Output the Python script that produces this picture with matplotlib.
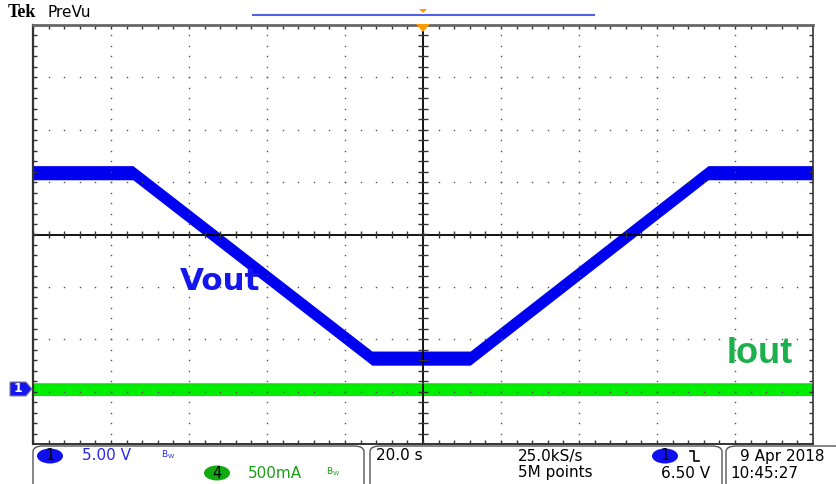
import numpy as np
import matplotlib.pyplot as plt
from matplotlib.patches import Polygon, Ellipse, FancyBboxPatch
from matplotlib.lines import Line2D

# scope settings
time_per_div = 20.0      # s/div
ch1_volts_per_div = 5.0  # V/div
ch4_amps_per_div = 0.5   # A/div
ch1_pos = -2.94          # divisions
ch4_pos = -2.96

# Vout breakpoints (s, V)
vout_t = [-100.0, -74.4, -13.1, 12.1, 73.1, 100.0]
vout_v = [20.6, 20.6, 2.9, 2.9, 20.6, 20.6]

# Iout (s, A)
iout_t = [-100.0, 100.0]
iout_a = [0.0, 0.0]

W, H = 837, 484


def fx(x):
    return x / W


def fy(y):
    return 1 - y / H


fig = plt.figure(figsize=(W / 100, H / 100), dpi=100)
fig.patch.set_facecolor('white')
ax = fig.add_axes([fx(33), fy(444), 780 / W, 419 / H])
ax.set_xlim(-5, 5)
ax.set_ylim(-4, 4)
ax.axis('off')

# graticule dots
dot = dict(ls='none', marker='s', ms=1.0, mew=0, color='#505050')
for gx in range(-4, 5):
    if gx == 0:
        continue
    ys = np.arange(-4, 4.001, 0.2)
    ax.plot(np.full_like(ys, gx), ys, **dot)
for gy in range(-3, 4):
    if gy == 0:
        continue
    xs = np.arange(-5, 5.001, 0.2)
    ax.plot(xs, np.full_like(xs, gy), **dot)

# center cross with minor ticks
ax.axhline(0, color='black', lw=1.3)
ax.axvline(0, color='black', lw=1.3)
mx = np.arange(-5, 5.001, 0.2)
my = np.arange(-4, 4.001, 0.2)
ax.vlines(mx, -0.06, 0.06, color='#333333', lw=1)
ax.hlines(my, -0.06, 0.06, color='#333333', lw=1)
# edge ticks
ax.vlines(mx, 4 - 0.07, 4, color='#333333', lw=1)
ax.vlines(mx, -4, -4 + 0.07, color='#333333', lw=1)
ax.hlines(my, -5, -5 + 0.05, color='#333333', lw=1)
ax.hlines(my, 5 - 0.05, 5, color='#333333', lw=1)

# frame
ax.plot([-5, -5], [-4, 4], color='#333333', lw=1.6, clip_on=False)
ax.plot([5, 5], [-4, 4], color='#333333', lw=1.2, clip_on=False)
ax.plot([-5, 5], [-4, -4], color='#333333', lw=1.4, clip_on=False)
ax.plot([-5, 5], [4, 4], color='#666666', lw=2.0, clip_on=False)

# traces
t_dense = np.linspace(-100, 100, 2001)
vout_div = np.interp(t_dense, vout_t, vout_v) / ch1_volts_per_div + ch1_pos
iout_div = np.interp(t_dense, iout_t, iout_a) / ch4_amps_per_div + ch4_pos
x_div = t_dense / time_per_div

ax.fill_between(x_div, iout_div - 0.115, iout_div + 0.115, color='#00ee00', lw=0)
ax.plot(x_div, iout_div + 0.11, color='#22aa22', lw=0.6)
ax.fill_between(x_div, vout_div - 0.135, vout_div + 0.135, color='#0000f0', lw=0)

# trace labels
fig.text(fx(180), fy(290), 'Vout', color='#1515ee', fontsize=22.3, fontweight='bold',
         family='DejaVu Sans', va='baseline')
fig.text(fx(727), fy(363), 'Iout', color='#1cb04c', fontsize=26, fontweight='bold',
         family='Liberation Sans', va='baseline')

# channel 1 ground marker
mk = Polygon([(fx(10), fy(382)), (fx(26), fy(382)), (fx(32), fy(389)),
              (fx(26), fy(396)), (fx(10), fy(396))], closed=True,
             transform=fig.transFigure, fc='#1515ee', ec='#888888', lw=0.8)
fig.patches.append(mk)
fig.text(fx(18), fy(389), '1', color='white', fontsize=9, fontweight='bold',
         ha='center', va='center')

# header
fig.text(fx(8), fy(17), 'Tek', family='Liberation Serif', fontweight='bold',
         fontsize=13, va='baseline', color='black')
fig.text(fx(48), fy(17), 'PreVu', fontsize=11, va='baseline', color='black')
fig.add_artist(Line2D([fx(253), fx(594)], [fy(15), fy(15)], color='#5060e8', lw=1.5))
fig.add_artist(Polygon([(fx(419), fy(9)), (fx(427), fy(9)), (fx(423), fy(13))],
                       closed=True, transform=fig.transFigure, fc='#ff9900', ec='none',
                       zorder=10))
fig.add_artist(Polygon([(fx(416), fy(24)), (fx(430), fy(24)), (fx(423), fy(32))],
                       closed=True, transform=fig.transFigure, fc='#ff9900', ec='none',
                       zorder=10))

# status bar boxes
for x0, x1 in [(33, 364), (370, 722), (726, 845)]:
    box = FancyBboxPatch((fx(x0), fy(492)), fx(x1 - x0), (492 - 446) / H,
                         boxstyle='round,pad=0,rounding_size=0.012',
                         transform=fig.transFigure, fc='none', ec='#555555', lw=1.0)
    fig.patches.append(box)


def oval(xc, yc, color, label):
    fig.patches.append(Ellipse((fx(xc), fy(yc)), 26 / W, 15 / H, transform=fig.transFigure,
                               fc=color, ec='none'))
    fig.text(fx(xc), fy(yc), label, color='black', fontsize=10.5, ha='center', va='center')


txt = dict(fontsize=11, va='center')
oval(50, 456, '#1010ee', '1')
fig.text(fx(82), fy(456), '5.00 V', color='#2828f0', **txt)
fig.text(fx(161), fy(455), r'$\mathregular{B_W}$', color='#2828f0', fontsize=6.5, va='center')
oval(217, 473, '#11aa11', '4')
fig.text(fx(248), fy(473), '500mA', color='#1a9e1a', **txt)
fig.text(fx(326), fy(472), r'$\mathregular{B_W}$', color='#1a9e1a', fontsize=6.5, va='center')

fig.text(fx(376), fy(456), '20.0 s', color='black', **txt)
fig.text(fx(518), fy(456), '25.0kS/s', color='black', **txt)
fig.text(fx(518), fy(473), '5M points', color='black', **txt)
oval(665, 456, '#1010ee', '1')
fig.add_artist(Line2D([fx(690), fx(694), fx(694), fx(699)],
                      [fy(451), fy(451), fy(461), fy(461)], color='black', lw=1.2))
fig.text(fx(661), fy(473), '6.50 V', color='black', **txt)
fig.text(fx(740), fy(456), '9 Apr 2018', color='black', **txt)
fig.text(fx(730), fy(473), '10:45:27', color='black', **txt)

fig.savefig('out.png', dpi=100)
